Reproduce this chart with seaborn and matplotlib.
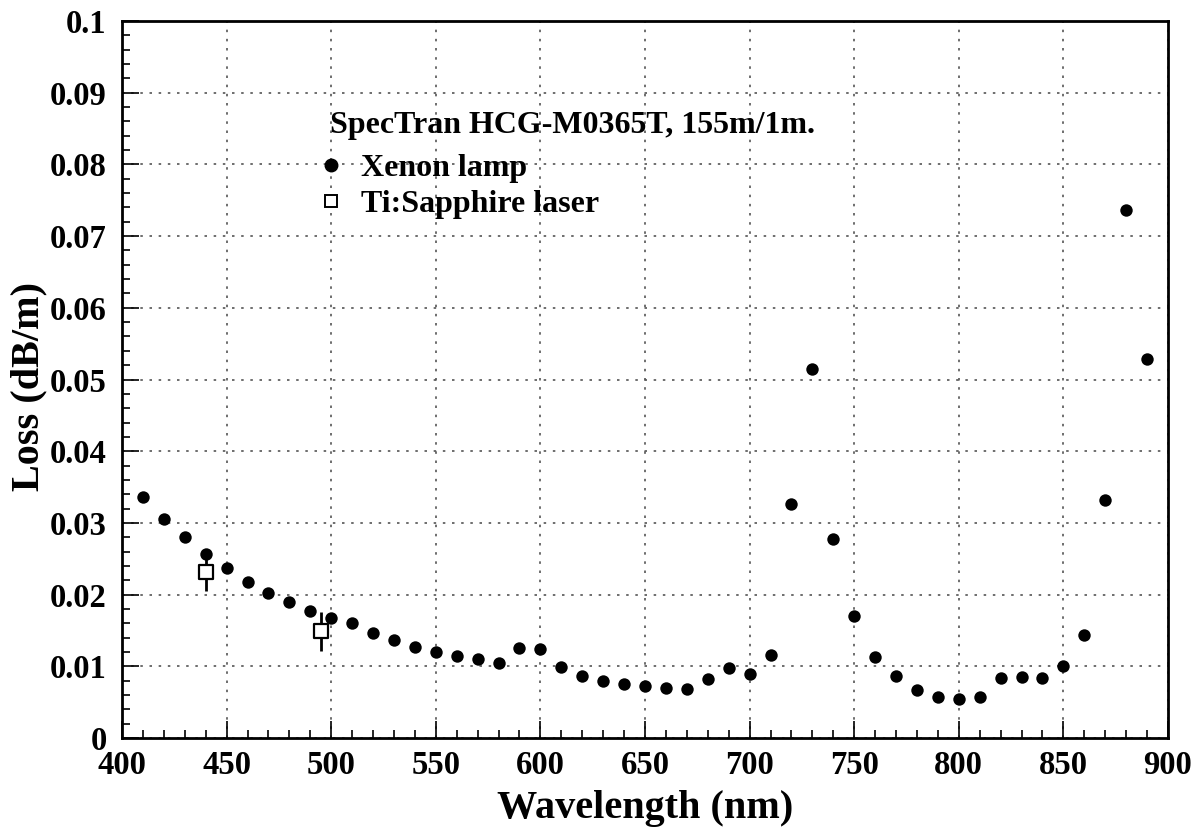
import matplotlib
matplotlib.use("Agg")
import matplotlib.pyplot as plt
from matplotlib.ticker import MultipleLocator
from matplotlib.lines import Line2D
import seaborn as sns
import pandas as pd
import numpy as np

# Xenon lamp data
xenon_wl = [410, 420, 430, 440, 450, 460, 470, 480, 490, 500,
            510, 520, 530, 540, 550, 560, 570, 580, 590, 600,
            610, 620, 630, 640, 650, 660, 670, 680, 690, 700,
            710, 720, 730, 740, 750, 760, 770, 780, 790, 800,
            810, 820, 830, 840, 850, 860, 870, 880, 890]
xenon_loss = [0.0336, 0.0305, 0.0280, 0.0257, 0.0237, 0.0217, 0.0202, 0.0190, 0.0177, 0.0167,
              0.0160, 0.0146, 0.0137, 0.0127, 0.0120, 0.0114, 0.0110, 0.0105, 0.0126, 0.0124,
              0.0099, 0.0086, 0.0080, 0.0075, 0.0073, 0.0070, 0.0068, 0.0082, 0.0098, 0.0089,
              0.0116, 0.0326, 0.0515, 0.0278, 0.0170, 0.0113, 0.0086, 0.0067, 0.0057, 0.0054,
              0.0057, 0.0084, 0.0085, 0.0084, 0.0101, 0.0144, 0.0332, 0.0737, 0.0529]

# Ti:Sapphire laser data
ti_wl = [440, 495]
ti_loss = [0.0232, 0.0149]
ti_err = [0.0027, 0.0027]

# Axis tick labels
y_ticklabels = ["0", "0.01", "0.02", "0.03", "0.04", "0.05", "0.06",
                "0.07", "0.08", "0.09", "0.1"]

sns.set_style("white")
plt.rcParams['font.family'] = ['Liberation Serif', 'DejaVu Serif']
plt.rcParams['font.weight'] = 'bold'
for k in ['text.color', 'axes.labelcolor', 'xtick.color', 'ytick.color']:
    plt.rcParams[k] = 'black'

fig = plt.figure(figsize=(12.01, 8.36), dpi=100)
ax = fig.add_axes([122/1201, 1 - 738/836, (1168-122)/1201, (738-21)/836])

df = pd.DataFrame({"wl": xenon_wl, "loss": xenon_loss})
sns.scatterplot(data=df, x="wl", y="loss", ax=ax, color="black", s=80,
                marker="o", edgecolor="black", linewidth=0, zorder=3)

ax.errorbar(ti_wl, ti_loss, yerr=ti_err, fmt="none", ecolor="black",
            elinewidth=2, capsize=0, zorder=3)
sns.scatterplot(x=ti_wl, y=ti_loss, ax=ax, marker="s", s=110,
                facecolor="white", edgecolor="black", linewidth=1.6, zorder=4)

ax.set_xlim(400, 900)
ax.set_ylim(0, 0.1)
ax.xaxis.set_major_locator(MultipleLocator(50))
ax.xaxis.set_minor_locator(MultipleLocator(10))
ax.yaxis.set_minor_locator(MultipleLocator(0.002))
ax.set_yticks(np.arange(0, 0.1001, 0.01))
ax.set_yticklabels(y_ticklabels)

ax.tick_params(axis="x", which="major", pad=9)
ax.tick_params(axis="y", which="major", pad=11)
ax.tick_params(axis="both", which="major", direction="in", length=12,
               width=1.2, labelsize=23.5, bottom=True, left=True, top=False, right=False)
ax.tick_params(axis="both", which="minor", direction="in", length=6,
               width=1.2, bottom=True, left=True, top=False, right=False)
for lab in ax.get_xticklabels() + ax.get_yticklabels():
    lab.set_fontweight("bold")

ax.grid(True, which="major", linestyle=(0, (1.5, 4)), color="#555555", linewidth=1.2)
ax.set_axisbelow(True)
for sp in ax.spines.values():
    sp.set_linewidth(2)
    sp.set_color("black")

ax.set_xlabel("Wavelength (nm)", fontsize=29, fontweight="bold")
ax.set_ylabel("Loss (dB/m)", fontsize=29, fontweight="bold")
ax.xaxis.set_label_coords(0.5, (738 - 790) / 717)
ax.yaxis.set_label_coords((47 - 122) / 1046, 0.49)

# Legend header and entries
ax.text(0.199, (738 - 125) / 717, "SpecTran HCG-M0365T, 155m/1m.", transform=ax.transAxes,
        fontsize=23, fontweight="bold", ha="left", va="center")
handles = [Line2D([], [], marker="o", linestyle="none", color="black", markersize=9),
           Line2D([], [], marker="s", linestyle="none", markerfacecolor="white",
                  markeredgecolor="black", markersize=8, markeredgewidth=1.4)]
leg = ax.legend(handles, ["Xenon lamp", "Ti:Sapphire laser"],
                loc="upper left", bbox_to_anchor=(318 / 1201, 1 - 154 / 836),
                bbox_transform=fig.transFigure,
                frameon=False, prop={"size": 23, "weight": "bold"},
                handletextpad=0.55, handlelength=0.8, labelspacing=0.2,
                borderaxespad=0, borderpad=0)

fig.savefig("out.png", dpi=100)
